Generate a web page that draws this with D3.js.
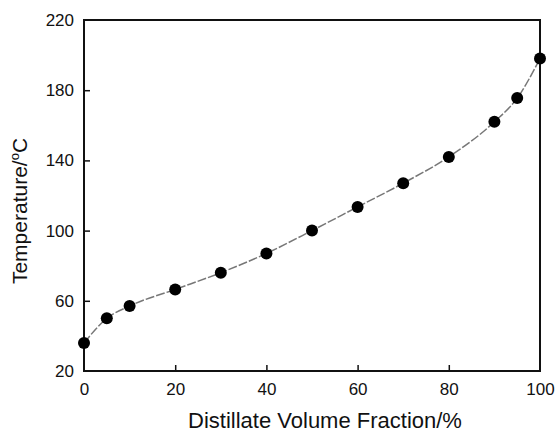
<!DOCTYPE html>
<html>
<head>
<meta charset="utf-8">
<script src="https://cdn.jsdelivr.net/npm/d3@7"></script>
<style>
  body { margin: 0; background: #fff; }
  text { font-family: "Liberation Sans", Arial, sans-serif; fill: #111; }
</style>
</head>
<body>
<div id="chart"></div>
<script>
var fraction = [0, 5, 10, 20, 30, 40, 50, 60, 70, 80, 90, 95, 100];
var temperature = [36, 50, 57, 66.5, 76, 87, 100, 113.5, 127, 142, 162, 175.5, 198];
var xTicks = [0, 20, 40, 60, 80, 100];
var yTicks = [20, 60, 100, 140, 180, 220];

var margin = { left: 84, right: 15, top: 20, bottom: 62 };
var width = 555 - margin.left - margin.right;
var height = 433 - margin.top - margin.bottom;

var svg = d3.select("#chart")
  .append("svg")
  .attr("width", 555)
  .attr("height", 433);

var g = svg.append("g")
  .attr("transform", "translate(" + margin.left + "," + margin.top + ")");

var x = d3.scaleLinear().domain([0, 100]).range([0, width]);
var y = d3.scaleLinear().domain([20, 220]).range([height, 0]);

// x axis, ticks pointing inward
var xAxis = g.append("g")
  .attr("transform", "translate(0," + height + ")")
  .call(d3.axisBottom(x).tickValues(xTicks).tickSizeInner(-6).tickSizeOuter(0).tickPadding(12));

// y axis
var yAxis = g.append("g")
  .call(d3.axisLeft(y).tickValues(yTicks).tickSizeInner(-6).tickSizeOuter(0).tickPadding(10));

[xAxis, yAxis].forEach(function (a) {
  a.select(".domain").remove();
  a.selectAll("line").attr("stroke", "#111").attr("stroke-width", 1.5);
  a.selectAll("text").attr("font-size", "17px").attr("fill", "#111");
});
// drop end ticks that sit on the frame
xAxis.selectAll(".tick").filter(function (d) { return d === 0 || d === 100; }).select("line").remove();
yAxis.selectAll(".tick").filter(function (d) { return d === 20 || d === 220; }).select("line").remove();

// frame
g.append("rect")
  .attr("x", 0).attr("y", 0)
  .attr("width", width).attr("height", height)
  .attr("fill", "none")
  .attr("stroke", "#111")
  .attr("stroke-width", 2);

var pts = fraction.map(function (f, i) { return [f, temperature[i]]; });

var line = d3.line()
  .x(function (d) { return x(d[0]); })
  .y(function (d) { return y(d[1]); })
  .curve(d3.curveMonotoneX);

g.append("path")
  .datum(pts)
  .attr("d", line)
  .attr("fill", "none")
  .attr("stroke", "#777")
  .attr("stroke-width", 1.5)
  .attr("stroke-dasharray", "9,2");

g.selectAll("circle")
  .data(pts)
  .enter()
  .append("circle")
  .attr("cx", function (d) { return x(d[0]); })
  .attr("cy", function (d) { return y(d[1]); })
  .attr("r", 6)
  .attr("fill", "#000");

// axis titles
svg.append("text")
  .attr("x", 325)
  .attr("y", 428)
  .attr("text-anchor", "middle")
  .attr("font-size", "22px")
  .text("Distillate Volume Fraction/%");

var yt = svg.append("text")
  .attr("transform", "translate(27,211) rotate(-90)")
  .attr("text-anchor", "middle")
  .attr("font-size", "21px");
yt.append("tspan").text("Temperature/");
yt.append("tspan").attr("font-size", "13px").attr("dy", "-8").text("o");
yt.append("tspan").attr("dy", "8").text("C");
</script>
</body>
</html>
